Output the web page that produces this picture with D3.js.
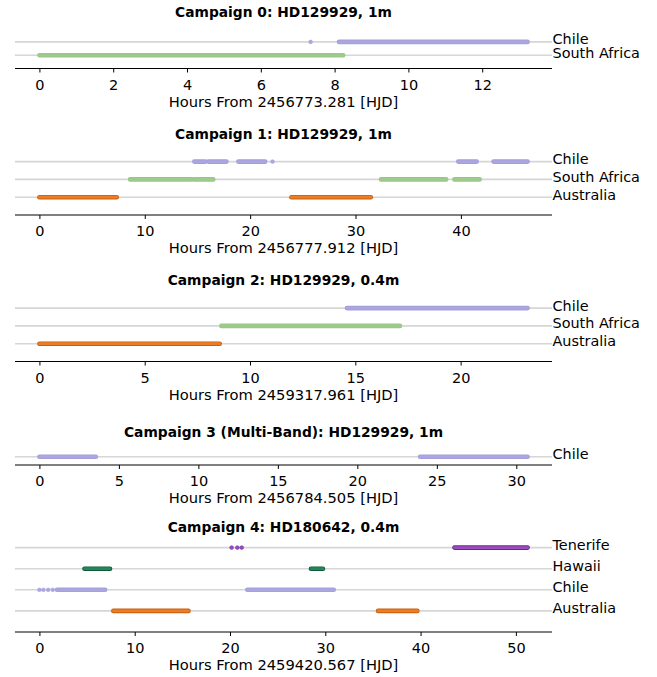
<!DOCTYPE html>
<html>
<head>
<meta charset="utf-8">
<script src="https://cdn.jsdelivr.net/npm/d3@7"></script>
<style>
  html, body { margin: 0; padding: 0; background: #fff; }
  svg { display: block; font-family: "DejaVu Sans", sans-serif; }
</style>
</head>
<body>
<svg id="chart" width="657" height="677"></svg>
<script>
// ---------------- DATA ----------------
const titles = [
  "Campaign 0: HD129929, 1m",
  "Campaign 1: HD129929, 1m",
  "Campaign 2: HD129929, 0.4m",
  "Campaign 3 (Multi-Band): HD129929, 1m",
  "Campaign 4: HD180642, 0.4m"
];
const xLabels = [
  "Hours From 2456773.281 [HJD]",
  "Hours From 2456777.912 [HJD]",
  "Hours From 2459317.961 [HJD]",
  "Hours From 2456784.505 [HJD]",
  "Hours From 2459420.567 [HJD]"
];
const tickValues = [
  [0, 2, 4, 6, 8, 10, 12],
  [0, 10, 20, 30, 40],
  [0, 5, 10, 15, 20],
  [0, 5, 10, 15, 20, 25, 30],
  [0, 10, 20, 30, 40, 50]
];
// stations listed top to bottom; segments are [start, end] hours, points are single epochs
const campaign0 = [
  { station: "Chile", segments: [[8.12, 13.23]], points: [7.35] },
  { station: "South Africa", segments: [[0, 8.23]], points: [] }
];
const campaign1 = [
  { station: "Chile", segments: [[14.7, 15.75], [16.03, 17.75], [18.88, 21.43], [39.75, 41.5], [43.1, 46.33]], points: [22.12] },
  { station: "South Africa", segments: [[8.61, 14.44], [14.68, 16.5], [32.42, 38.6], [39.38, 41.78]], points: [] },
  { station: "Australia", segments: [[0, 7.34], [23.92, 31.45]], points: [] }
];
const campaign2 = [
  { station: "Chile", segments: [[14.6, 23.18]], points: [] },
  { station: "South Africa", segments: [[8.64, 17.12]], points: [] },
  { station: "Australia", segments: [[0, 8.56]], points: [] }
];
const campaign3 = [
  { station: "Chile", segments: [[0, 3.55], [23.95, 30.71]], points: [] }
];
const campaign4 = [
  { station: "Tenerife", segments: [[43.56, 51.23]], points: [20.17, 20.77, 21.23] },
  { station: "Hawaii", segments: [[4.73, 7.41], [28.5, 29.75]], points: [] },
  { station: "Chile", segments: [[1.85, 6.9], [21.82, 30.89]], points: [0, 0.42, 0.92, 1.4] },
  { station: "Australia", segments: [[7.76, 15.64], [35.54, 39.66]], points: [] }
];
const campaigns = [campaign0, campaign1, campaign2, campaign3, campaign4];

// ---------------- STYLE / LAYOUT ----------------
const stationColors = {
  "Chile":        { fill: "#aaa6e0", edge: "#a49fdc" },
  "South Africa": { fill: "#9ecb8b", edge: "#98c784" },
  "Australia":    { fill: "#ec7d24", edge: "#c85e0e" },
  "Hawaii":       { fill: "#24875c", edge: "#0d5a39" },
  "Tenerife":     { fill: "#9a4cc0", edge: "#6a2790" }
};
const layout = [
  { spineY: 68.5, step: 13.3, titleY: 17 },
  { spineY: 215,  step: 17.8, titleY: 139 },
  { spineY: 361.5, step: 17.8, titleY: 285 },
  { spineY: 465,  step: 8.3,  titleY: 436.5 },
  { spineY: 632,  step: 21.1, titleY: 532 }
];
const xLeft = 15, xRight = 552;

const svg = d3.select("#chart");

campaigns.forEach((camp, pi) => {
  const L = layout[pi];
  const g = svg.append("g");
  let lo = Infinity, hi = -Infinity;
  camp.forEach(r => {
    r.segments.forEach(s => { lo = Math.min(lo, s[0]); hi = Math.max(hi, s[1]); });
    r.points.forEach(p => { lo = Math.min(lo, p); hi = Math.max(hi, p); });
  });
  const pad = (hi - lo) * 0.05;
  const x = d3.scaleLinear().domain([lo - pad, hi + pad]).range([xLeft, xRight]);
  const n = camp.length;
  const y = d3.scaleLinear().domain([0, n]).range([L.spineY, L.spineY - n * L.step]);
  const rowY = j => y(n - j);

  // title
  g.append("text")
    .attr("x", (xLeft + xRight) / 2).attr("y", L.titleY)
    .attr("text-anchor", "middle")
    .attr("font-weight", "bold").attr("font-size", 13.8)
    .text(titles[pi]);

  // background lines + labels
  camp.forEach((r, j) => {
    const yy = rowY(j);
    g.append("line")
      .attr("x1", xLeft).attr("x2", xRight)
      .attr("y1", yy).attr("y2", yy)
      .attr("stroke", "#d6d6d6").attr("stroke-width", 1.6);
    g.append("text")
      .attr("x", xRight + 0.5).attr("y", yy + 2.5)
      .attr("font-size", 14.4)
      .text(r.station);
  });

  // segments
  camp.forEach((r, j) => {
    const yy = rowY(j);
    const c = stationColors[r.station];
    r.segments.forEach(s => {
      g.append("line")
        .attr("x1", x(s[0])).attr("x2", x(s[1]))
        .attr("y1", yy).attr("y2", yy)
        .attr("stroke", c.edge).attr("stroke-width", 4.6)
        .attr("stroke-linecap", "round");
      g.append("line")
        .attr("x1", x(s[0])).attr("x2", x(s[1]))
        .attr("y1", yy).attr("y2", yy)
        .attr("stroke", c.fill).attr("stroke-width", 2.8)
        .attr("stroke-linecap", "round");
    });
    r.points.forEach(p => {
      g.append("circle")
        .attr("cx", x(p)).attr("cy", yy).attr("r", 1.9)
        .attr("fill", c.fill).attr("stroke", c.edge).attr("stroke-width", 0.5);
    });
  });

  // axis
  const axis = d3.axisBottom(x).tickValues(tickValues[pi]).tickSize(4).tickSizeOuter(0).tickPadding(7);
  const ag = g.append("g").attr("transform", `translate(0,${L.spineY})`).call(axis);
  ag.select(".domain").remove();
  ag.selectAll(".tick line").attr("stroke", "#000").attr("stroke-width", 1);
  ag.selectAll(".tick text").attr("font-size", 14.5).attr("font-family", "DejaVu Sans, sans-serif").attr("fill", "#000");
  g.append("line")
    .attr("x1", xLeft).attr("x2", xRight)
    .attr("y1", L.spineY).attr("y2", L.spineY)
    .attr("stroke", "#000").attr("stroke-width", 1.1);

  g.append("text")
    .attr("x", (xLeft + xRight) / 2).attr("y", L.spineY + 38)
    .attr("text-anchor", "middle").attr("font-size", 14.7)
    .text(xLabels[pi]);
});
</script>
</body>
</html>
